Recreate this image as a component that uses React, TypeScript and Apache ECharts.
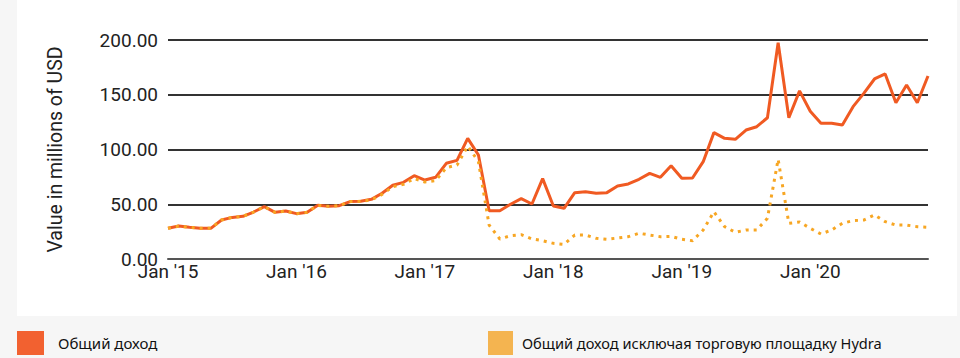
import React, { useEffect, useRef } from "react";
import * as echarts from "echarts";

const MONTHS = ["Jan", "Feb", "Mar", "Apr", "May", "Jun", "Jul", "Aug", "Sep", "Oct", "Nov", "Dec"];
const YEARS = ["15", "16", "17", "18", "19", "20"];

const SERIES_TOTAL = "Общий доход";
const SERIES_EXCL = "Общий доход исключая торговую площадку Hydra";

const totalIncome = [
  28.0, 30.1, 28.9, 28.0, 28.0, 35.6, 38.0, 39.0, 42.9, 47.8, 42.6, 43.8,
  41.4, 42.6, 49.0, 48.1, 48.7, 52.4, 52.7, 54.5, 60.0, 67.3, 70.0, 76.1,
  72.1, 74.6, 87.4, 90.1, 110.2, 95.0, 44.1, 44.1, 50.0, 55.1, 50.2, 73.4,
  48.4, 46.3, 60.6, 61.5, 60.0, 60.6, 66.7, 68.5, 72.8, 78.2, 74.6, 85.2,
  73.7, 74.0, 88.9, 115.4, 110.2, 109.3, 117.8, 120.8, 129.0, 197.5, 129.0, 153.5,
  135.0, 124.0, 124.0, 122.4, 139.1, 151.3, 164.4, 169.0, 142.7, 158.9, 142.7, 167.1,
];

const incomeExclHydra = [
  28.0, 30.1, 28.9, 28.0, 28.0, 35.6, 38.0, 39.0, 42.9, 47.8, 42.6, 43.8,
  41.4, 42.6, 49.0, 48.1, 48.7, 52.4, 52.7, 54.0, 59.0, 66.0, 68.2, 73.5,
  70.3, 71.5, 83.4, 85.8, 103.0, 89.0, 31.0, 18.3, 21.3, 22.2, 18.3, 16.7,
  14.3, 13.4, 21.9, 21.9, 18.9, 18.0, 19.2, 20.4, 23.5, 21.9, 20.4, 20.7,
  18.0, 16.7, 26.5, 43.2, 29.5, 24.4, 26.5, 26.5, 37.2, 91.0, 32.6, 33.8,
  28.0, 22.8, 26.5, 32.6, 35.0, 35.6, 40.2, 34.1, 31.0, 31.0, 29.5, 29.0,
];

const Y_TICKS = [0, 50, 100, 150, 200];

const categories: string[] = [];
YEARS.forEach((y) => MONTHS.forEach((m) => categories.push(`${m} '${y}`)));

export default function App() {
  const ref = useRef<HTMLDivElement>(null);

  useEffect(() => {
    if (!ref.current) return;
    const chart = echarts.init(ref.current, undefined, { renderer: "svg" });
    const axisFont = "Roboto, Arial, sans-serif";
    const legendText = (pad: number) => ({
      fontFamily: "'Noto Sans', sans-serif",
      fontSize: 15,
      color: "#111",
      padding: [0, 0, 0, pad],
    });
    chart.setOption({
      animation: false,
      backgroundColor: "#f6f6f6",
      graphic: [
        {
          type: "rect",
          silent: true,
          z: -10,
          shape: { x: 17, y: 0, width: 940, height: 316 },
          style: { fill: "#ffffff" },
        },
      ],
      grid: { left: 168, right: 32, top: 40, bottom: 99 },
      legend: [
        {
          data: [{ name: SERIES_TOTAL, itemStyle: { color: "#F26130" } }],
          left: 12,
          top: 326,
          icon: "rect",
          itemWidth: 27,
          itemHeight: 24,
          textStyle: legendText(9),
          selectedMode: false,
        },
        {
          data: [{ name: SERIES_EXCL, itemStyle: { color: "#F4B450" } }],
          left: 483,
          top: 326,
          icon: "rect",
          itemWidth: 25,
          itemHeight: 24,
          textStyle: { ...legendText(4), fontSize: 14.6 },
          selectedMode: false,
        },
      ],
      xAxis: {
        type: "category",
        data: categories,
        boundaryGap: false,
        axisLine: { show: true, lineStyle: { color: "#555", width: 2 } },
        axisTick: { show: false },
        axisLabel: {
          interval: (i: number) => i % 12 === 0,
          formatter: (v: string) => v,
          fontFamily: axisFont,
          fontSize: 19,
          color: "#222",
          margin: 3,
        },
        splitLine: { show: false },
      },
      yAxis: {
        type: "value",
        min: Y_TICKS[0],
        max: Y_TICKS[Y_TICKS.length - 1],
        interval: 50,
        name: "Value in millions of USD",
        nameLocation: "middle",
        nameGap: 103,
        nameTextStyle: { fontFamily: axisFont, fontSize: 19.5, color: "#222" },
        axisLine: { show: false },
        axisTick: { show: false },
        axisLabel: {
          formatter: (v: number) => v.toFixed(2),
          fontFamily: axisFont,
          fontSize: 19,
          color: "#222",
          margin: 10,
        },
        splitLine: { show: true, lineStyle: { color: "#333", width: 2 } },
      },
      series: [
        {
          name: SERIES_TOTAL,
          type: "line",
          data: totalIncome,
          showSymbol: false,
          symbol: "none",
          itemStyle: { color: "#F26130" },
          lineStyle: { color: "#F05A22", width: 3 },
          z: 3,
        },
        {
          name: SERIES_EXCL,
          type: "line",
          data: incomeExclHydra,
          showSymbol: false,
          symbol: "none",
          itemStyle: { color: "#F4B450" },
          lineStyle: { color: "#F7A623", width: 3, type: [3, 5] },
          z: 4,
        },
      ],
    });
    return () => chart.dispose();
  }, []);

  return (
    <div
      ref={ref}
      style={{ position: "absolute", left: 0, top: 0, width: 960, height: 358 }}
    />
  );
}
